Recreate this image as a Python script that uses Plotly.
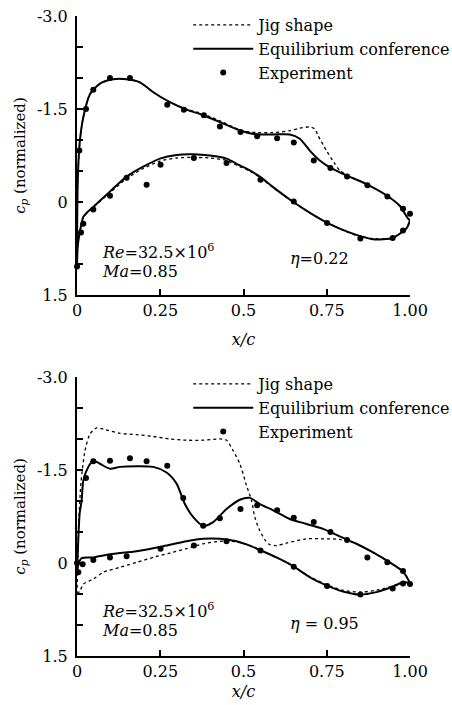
import plotly.graph_objects as go

# ---------------- eta = 0.22 (top) ----------------
eq_up_x_1 = [0.0, 0.002, 0.008, 0.019, 0.039, 0.069, 0.109, 0.149, 0.189, 0.229, 0.279, 0.329, 0.379, 0.429,
             0.491, 0.539, 0.589, 0.639, 0.669, 0.699, 0.729, 0.759, 0.809, 0.869, 0.929, 0.969, 0.992, 1.0]
eq_up_cp_1 = [1.05, -0.3, -0.95, -1.37, -1.74, -1.91, -1.98, -1.98, -1.93, -1.77, -1.61, -1.49, -1.40, -1.29,
              -1.15, -1.09, -1.09, -1.09, -1.02, -0.83, -0.67, -0.56, -0.43, -0.29, -0.11, 0.06, 0.25, 0.30]
eq_lo_x_1 = [0.0, 0.002, 0.008, 0.019, 0.03, 0.049, 0.099, 0.149, 0.199, 0.249, 0.299, 0.349, 0.399, 0.449,
             0.489, 0.519, 0.549, 0.589, 0.639, 0.689, 0.739, 0.789, 0.839, 0.889, 0.948, 0.975, 0.99, 1.0]
eq_lo_cp_1 = [1.05, 0.72, 0.5, 0.24, 0.17, 0.08, -0.17, -0.41, -0.57, -0.70, -0.76, -0.77, -0.75, -0.70,
              -0.59, -0.51, -0.41, -0.24, -0.04, 0.14, 0.30, 0.43, 0.53, 0.60, 0.58, 0.49, 0.42, 0.30]
jig_up_x_1 = [0.0, 0.002, 0.008, 0.019, 0.039, 0.069, 0.109, 0.149, 0.189, 0.229, 0.279, 0.329, 0.379, 0.429,
              0.491, 0.539, 0.589, 0.639, 0.669, 0.699, 0.714, 0.724, 0.749, 0.774, 0.789, 0.809, 0.869, 0.929,
              0.969, 0.992, 1.0]
jig_up_cp_1 = [1.05, -0.3, -0.95, -1.37, -1.74, -1.91, -1.98, -1.98, -1.93, -1.77, -1.61, -1.50, -1.42, -1.31,
               -1.16, -1.12, -1.12, -1.15, -1.19, -1.21, -1.18, -1.07, -0.83, -0.62, -0.51, -0.44, -0.29, -0.11,
               0.06, 0.25, 0.30]
jig_lo_x_1 = eq_lo_x_1
jig_lo_cp_1 = [1.05, 0.72, 0.5, 0.24, 0.17, 0.08, -0.15, -0.38, -0.54, -0.66, -0.71, -0.72, -0.71, -0.67,
               -0.57, -0.50, -0.40, -0.23, -0.04, 0.14, 0.30, 0.43, 0.54, 0.59, 0.58, 0.49, 0.42, 0.30]
exp_x_1 = [0.0, 0.007, 0.027, 0.049, 0.099, 0.159, 0.271, 0.321, 0.381, 0.429, 0.491, 0.541, 0.601, 0.651,
           0.711, 0.761, 0.811, 0.872, 0.932, 0.979, 1.0,
           0.012, 0.019, 0.049, 0.099, 0.149, 0.209, 0.251, 0.351, 0.449, 0.551, 0.651, 0.751, 0.851, 0.948, 0.979]
exp_cp_1 = [1.04, -0.83, -1.50, -1.81, -2.00, -2.00, -1.57, -1.49, -1.40, -1.22, -1.13, -1.06, -1.03, -0.96,
            -0.67, -0.55, -0.41, -0.27, -0.09, 0.11, 0.19,
            0.49, 0.35, 0.12, -0.10, -0.39, -0.28, -0.60, -0.71, -0.63, -0.36, -0.01, 0.34, 0.59, 0.58, 0.46]

# ---------------- eta = 0.95 (bottom) ----------------
eq_up_x_2 = [0.0, 0.004, 0.008, 0.014, 0.019, 0.034, 0.049, 0.069, 0.099, 0.129, 0.179, 0.229, 0.269, 0.299,
             0.324, 0.349, 0.379, 0.409, 0.449, 0.489, 0.519, 0.549, 0.589, 0.639, 0.689, 0.739, 0.789, 0.839,
             0.889, 0.939, 0.979, 1.0]
eq_up_cp_2 = [0.15, -0.4, -0.8, -1.01, -1.33, -1.55, -1.65, -1.60, -1.52, -1.55, -1.56, -1.55, -1.46, -1.28,
              -0.95, -0.74, -0.60, -0.66, -0.87, -1.02, -1.05, -0.95, -0.85, -0.71, -0.63, -0.55, -0.43, -0.31,
              -0.17, -0.01, 0.14, 0.32]
eq_lo_x_2 = [0.0, 0.005, 0.014, 0.049, 0.099, 0.179, 0.259, 0.329, 0.379, 0.429, 0.479, 0.519, 0.549, 0.599,
             0.649, 0.699, 0.749, 0.799, 0.849, 0.899, 0.949, 0.979, 1.0]
eq_lo_cp_2 = [0.15, 0.0, -0.08, -0.09, -0.14, -0.19, -0.27, -0.35, -0.39, -0.39, -0.35, -0.28, -0.21, -0.09,
              0.05, 0.23, 0.36, 0.46, 0.51, 0.47, 0.38, 0.31, 0.32]
jig_up_x_2 = [0.0, 0.005, 0.012, 0.024, 0.039, 0.059, 0.079, 0.129, 0.179, 0.229, 0.279, 0.329, 0.379, 0.429,
              0.449, 0.469, 0.489, 0.509, 0.524, 0.534, 0.549, 0.574, 0.599, 0.629, 0.689, 0.739, 0.789, 0.839,
              0.889, 0.939, 0.979, 1.0]
jig_up_cp_2 = [0.5, -0.6, -1.3, -1.81, -2.08, -2.18, -2.16, -2.09, -2.07, -2.04, -2.00, -1.98, -1.98, -2.00,
               -1.98, -1.81, -1.60, -1.25, -1.01, -0.74, -0.52, -0.31, -0.28, -0.32, -0.39, -0.39, -0.38, -0.31,
               -0.17, -0.01, 0.14, 0.32]
jig_lo_x_2 = [0.0, 0.009, 0.019, 0.049, 0.079, 0.129, 0.179, 0.229, 0.279, 0.329, 0.379, 0.429, 0.479, 0.519,
              0.549, 0.599, 0.649, 0.699, 0.749, 0.799, 0.849, 0.899, 0.949, 0.979, 1.0]
jig_lo_cp_2 = [0.5, 0.45, 0.34, 0.26, 0.15, 0.07, -0.01, -0.09, -0.16, -0.23, -0.31, -0.35, -0.34, -0.28,
               -0.21, -0.09, 0.05, 0.22, 0.35, 0.44, 0.47, 0.44, 0.37, 0.31, 0.32]
exp_x_2 = [0.027, 0.049, 0.099, 0.159, 0.209, 0.271, 0.319, 0.379, 0.429, 0.491, 0.541, 0.601, 0.651,
           0.711, 0.761, 0.811, 0.872, 0.932, 0.979, 1.0,
           0.0, 0.004, 0.017, 0.049, 0.099, 0.149, 0.251, 0.351, 0.449, 0.551, 0.651, 0.751, 0.851, 0.948, 0.979]
exp_cp_2 = [-1.37, -1.64, -1.65, -1.69, -1.64, -1.57, -1.05, -0.60, -0.72, -0.87, -0.93, -0.85, -0.73,
            -0.66, -0.50, -0.37, -0.09, -0.01, 0.13, 0.34,
            0.0, 0.15, 0.02, -0.05, -0.09, -0.11, -0.23, -0.28, -0.35, -0.20, 0.06, 0.37, 0.51, 0.41, 0.33]

y_tickvals = [-3.0, -2.5, -2.0, -1.5, -1.0, -0.5, 0.0, 0.5, 1.0, 1.5]
y_ticktext = ["-3.0", "", "", "-1.5", "", "", "0", "", "", "1.5"]
x_tickvals = [0, 0.25, 0.5, 0.75, 1.0]
x_ticktext = ["0", "0.25", "0.5", "0.75", "1.00"]

FONT = "DejaVu Serif"
fig = go.Figure()

def add_panel(xa, ya, leg, jux, juc, jlx, jlc, eux, euc, elx, elc, ex, ec):
    common = dict(xaxis=xa, yaxis=ya, legend=leg, cliponaxis=False)
    fig.add_trace(go.Scatter(x=jux, y=juc, mode="lines", name="Jig shape", legendgroup=leg + "j",
                             line=dict(color="black", width=1.3, dash="dot", shape="spline", smoothing=0.7),
                             **common))
    fig.add_trace(go.Scatter(x=jlx, y=jlc, mode="lines", name="Jig shape", legendgroup=leg + "j", showlegend=False,
                             line=dict(color="black", width=1.3, dash="dot", shape="spline", smoothing=0.7),
                             **common))
    fig.add_trace(go.Scatter(x=eux, y=euc, mode="lines", name="Equilibrium conference", legendgroup=leg + "e",
                             line=dict(color="black", width=2, shape="spline", smoothing=0.7), **common))
    fig.add_trace(go.Scatter(x=elx, y=elc, mode="lines", name="Equilibrium conference", legendgroup=leg + "e",
                             showlegend=False,
                             line=dict(color="black", width=2, shape="spline", smoothing=0.7), **common))
    fig.add_trace(go.Scatter(x=ex, y=ec, mode="markers", name="Experiment",
                             marker=dict(color="black", size=6, symbol="circle"), **common))

add_panel("x", "y", "legend", jig_up_x_1, jig_up_cp_1, jig_lo_x_1, jig_lo_cp_1,
          eq_up_x_1, eq_up_cp_1, eq_lo_x_1, eq_lo_cp_1, exp_x_1, exp_cp_1)
add_panel("x2", "y2", "legend2", jig_up_x_2, jig_up_cp_2, jig_lo_x_2, jig_lo_cp_2,
          eq_up_x_2, eq_up_cp_2, eq_lo_x_2, eq_lo_cp_2, exp_x_2, exp_cp_2)

def f(size):
    return dict(family=FONT, size=size, color="black")

xax = dict(range=[0, 1], tickvals=x_tickvals, ticktext=x_ticktext, ticks="inside", ticklen=6, tickwidth=1.5,
           tickcolor="black", showline=True, linewidth=2, linecolor="black", showgrid=False, zeroline=False,
           tickfont=f(16))
yax = dict(range=[1.5, -3.0], tickvals=y_tickvals, ticktext=y_ticktext, ticks="inside", ticklen=6, tickwidth=1.5,
           tickcolor="black", showline=True, linewidth=2, linecolor="black", showgrid=False, zeroline=False,
           tickfont=f(16), ticklabelstandoff=4,
           title=dict(text="<i>c<sub>p</sub></i> (normalized)", font=f(15), standoff=8))

leg_common = dict(bgcolor="rgba(0,0,0,0)", font=f(16),
                  xanchor="left", yanchor="top", itemwidth=60, tracegroupgap=0, orientation="v")

fig.update_layout(
    width=452, height=705,
    margin=dict(l=77, r=42, t=16, b=49, autoexpand=False),
    paper_bgcolor="white", plot_bgcolor="white",
    xaxis=dict(xax, domain=[0, 1], anchor="y",
               title=dict(text="<i>x/c</i>", font=f(16), standoff=15)),
    yaxis=dict(yax, domain=[0.564, 1.0], anchor="x"),
    xaxis2=dict(xax, domain=[0, 1], anchor="y2",
                title=dict(text="<i>x/c</i>", font=f(16), standoff=6)),
    yaxis2=dict(yax, domain=[0.0, 0.436], anchor="x2"),
    legend=dict(leg_common, x=0.334, y=1.0125),
    legend2=dict(leg_common, x=0.334, y=0.4516),
    font=f(16),
)

annots = [
    ("x", "y", 0.07, 0.80, "<i>Re</i>=32.5×10<sup>6</sup>"),
    ("x", "y", 0.07, 1.12, "<i>Ma</i>=0.85"),
    ("x", "y", 0.633, 0.91, "<i>η</i>=0.22"),
    ("x2", "y2", 0.07, 0.76, "<i>Re</i>=32.5×10<sup>6</sup>"),
    ("x2", "y2", 0.07, 1.09, "<i>Ma</i>=0.85"),
    ("x2", "y2", 0.633, 0.98, "<i>η</i> = 0.95"),
]
for xr, yr, xv, yv, t in annots:
    fig.add_annotation(xref=xr, yref=yr, x=xv, y=yv, text=t, showarrow=False, xanchor="left",
                       yanchor="middle", font=f(16))

fig.write_html("out.html")
